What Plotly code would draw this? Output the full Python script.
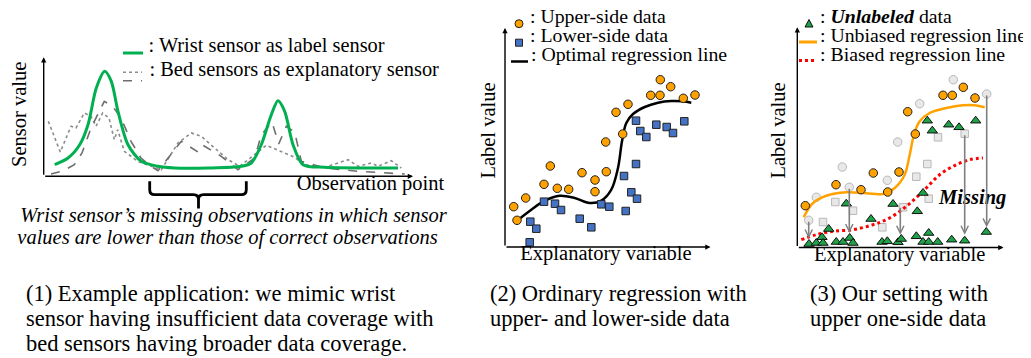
import plotly.graph_objects as go

W, H = 1031, 358
FONT = "Liberation Serif, Times New Roman, serif"

# ---------------- Panel 1 data (observation point vs sensor value) ----------------
wrist_x = [11, 24.3, 36, 44.3, 52.6, 61, 67.6, 74.3, 84.3, 97.6, 114.3, 131, 164.3, 197.6,
           207.6, 217.6, 227.6, 234.3, 241, 249.3, 259.3, 281, 331, 354.3]
wrist_y = [11.6, 18.3, 31.6, 51.6, 88.3, 105, 95, 65, 31.6, 15, 10, 8.3, 8.3, 10,
           13.3, 31.6, 61.6, 75.6, 65, 31.6, 11.6, 9, 8.3, 8.3]

bed_dot_x = [4.6, 16.6, 27.3, 32.3, 40.6, 47.3, 52.3, 59, 65.3, 70.6, 74, 80.6, 94, 104.3, 117.6,
             134.3, 147.6, 157.6, 171, 184.3, 196, 211, 222.6, 251, 261, 281, 304.3, 314.3,
             327.6, 334.3, 347.6, 357.6]
bed_dot_y = [55, 24.3, 50, 48.3, 63.3, 60, 50, 63.3, 58.3, 36.6, 46.6, 25, 15, 11.6, 6.6,
             33.3, 43.3, 40, 28.3, 16.6, 10, 21.6, 31, 19, 11.6, 9, 16.6, 10,
             13.3, 10, 15.6, 8.3]

bed_dash_x = [7.3, 19.3, 30.6, 38.3, 47.3, 60.6, 69, 77.3, 87.3, 97.3, 107.3, 114.3, 137.6, 154.3,
              159.3, 177.6, 194.3, 211, 217.6, 228.3, 235, 242.6, 251, 257.6, 281, 314.3, 361]
bed_dash_y = [2.3, 5.3, 11.6, 23.3, 48.3, 75, 70, 58.3, 35, 18.3, 10, 5.6, 35, 24.3,
              31, 20, 6.6, 18.3, 41.6, 54.3, 32.3, 50, 44.3, 15, 8.3, 5, 2.3]

# ---------------- Panel 2 data ----------------
upper_x = [8.7, 12, 20.7, 39, 45.3, 52.3, 63.7, 77, 90, 90, 101.3, 100.7, 111, 117.7, 123,
           145.7, 155, 155.3, 165.7, 178.3, 190]
upper_y = [40.3, 26.7, 49, 62.7, 81, 58.7, 57.7, 74.3, 67, 55.3, 75.3, 105, 134.7, 113, 142.7,
           151.7, 151.7, 167.3, 160.3, 148.7, 152]

lower_x = [24.7, 25.3, 31.3, 39, 50, 56, 74.7, 86.3, 96.3, 104.3, 119, 120.7, 126.3, 131, 132,
           131, 135.3, 141.3, 151.3, 161.7, 168, 179.3]
lower_y = [4.7, 25.3, 18.3, 45.3, 43.3, 37, 28.3, 19.7, 42.7, 40.3, 71, 36, 54.7, 83, 48.3,
           126.3, 116, 110, 122.3, 120, 114, 125.7]

opt_x = [12, 26.3, 39.7, 54.7, 69.7, 84.7, 96.3, 106.3, 113, 117, 121.3, 128, 139.7, 153, 166.3, 178, 186.3]
opt_y = [26.3, 37.3, 46.3, 51.3, 49, 44, 46.3, 57.3, 79, 105.7, 124, 133, 140, 144.3, 146, 145.7, 144.3]

# ---------------- Panel 3 data ----------------
lab_x = [8, 38.7, 63.7, 76, 90.4, 101.7, 110.4, 118, 145.7, 155, 166, 177.7]
lab_y = [41.8, 62.8, 57.8, 74.5, 55.5, 75.5, 135.8, 113.5, 152.2, 152.2, 160.2, 149.5]

miss_up_x = [11.4, 19, 45, 52, 90, 100.4, 122.4, 156, 189.4]
miss_up_y = [27.2, 50.2, 80.5, 60.2, 67.2, 105.5, 143.8, 167.8, 153.5]

miss_low_x = [25.7, 38, 55.7, 85, 105.7, 119, 130, 131.4, 140.7, 167.4]
miss_low_y = [25.5, 45.5, 36.8, 20.2, 40.2, 70.8, 83.5, 48.8, 110.2, 113.8]

unl_x = [11.7, 19, 24.7, 25.7, 31.4, 39, 45.7, 49, 52.4, 55.7, 73.7, 84.7, 90, 95.7, 100.7, 104,
         120, 119, 125.7, 125.7, 131.4, 131.4, 130, 135, 140.4, 151.4, 154.4, 161.7, 167.4, 178.4, 189]
unl_y = [3.5, 4.5, 10.2, 4.5, 18.5, 5.5, 5.5, 43.8, 9.5, 4.5, 28.5, 5.5, 6.2, 43.5, 5.2, 8.5,
         36.2, 11.2, 54.5, 5.5, 14.5, 5.5, 126.8, 116.8, 5.5, 122.8, 7.8, 120.2, 6.8, 126.8, 15.5]

unb_x = [6.4, 15.7, 29, 49, 69, 85.7, 97.4, 107.4, 112.4, 116.7, 122.4, 132.4, 149, 165.7, 177.4, 187.4]
unb_y = [30.2, 44.5, 51.8, 55.2, 54.2, 53.5, 59.5, 72.8, 92.8, 112.8, 126.2, 134.5, 139.5, 142.2, 142.2, 140.2]

bias_x = [4, 19, 35.7, 55.7, 75.7, 92.4, 109, 125.7, 142.4, 159, 172.4, 185.7]
bias_y = [7.8, 12.8, 16.2, 17.8, 22.8, 29.5, 41.2, 56.2, 72.8, 82.8, 87.8, 89.5]

miss_arrow_x = [11.4, 52, 103, 167.4, 189.4]
miss_arrow_from = [27.2, 60.2, 41.2, 113.8, 153.5]
miss_arrow_to = [9, 14.5, 12.8, 12.8, 20.2]

# ---------------- text labels ----------------
legend1_labels = [": Wrist sensor as label sensor", ": Bed sensors as explanatory sensor"]
legend2_labels = [": Upper-side data", ": Lower-side data", ": Optimal regression line"]
legend3_labels = [": <b><i>Unlabeled</i></b> data", ": Unbiased regression line", ": Biased regression line"]
note_lines = ["Wrist sensor’s missing observations in which sensor",
              "values are lower than those of correct observations"]
caption1 = ["(1) Example application: we mimic wrist",
            "sensor having insufficient data coverage with",
            "bed sensors having broader data coverage."]
caption2 = ["(2) Ordinary regression with", "upper- and lower-side data"]
caption3 = ["(3) Our setting with", "upper one-side data"]

# ---------------- layout helpers (pixel -> paper) ----------------
def fx(x):
    return x / W

def fy(y):
    return 1 - y / H

# panel frames: origin (ox, oy) and arrow tips (tx, ty) in pixels
P = {
    1: dict(ox=35.7, oy=168.3, tx=405.0, ty=49.3),
    2: dict(ox=497.0, oy=239.0, tx=702.5, ty=20.0),
    3: dict(ox=789.3, oy=239.5, tx=995.5, ty=19.3),
}

fig = go.Figure()

ORANGE = "#FFA200"
BLUE = "#4472C4"
GREEN = "#00B050"
TRI = "#1FA247"

# Panel 1 traces
fig.add_trace(go.Scatter(x=bed_dot_x, y=bed_dot_y, mode="lines", xaxis="x", yaxis="y",
                         line=dict(color="#8C8C8C", width=1.6, dash="dot"), cliponaxis=False))
fig.add_trace(go.Scatter(x=bed_dash_x, y=bed_dash_y, mode="lines", xaxis="x", yaxis="y",
                         line=dict(color="#6E6E6E", width=1.6, dash="dash"), cliponaxis=False))
fig.add_trace(go.Scatter(x=wrist_x, y=wrist_y, mode="lines", xaxis="x", yaxis="y",
                         line=dict(color=GREEN, width=3, shape="spline", smoothing=0.8), cliponaxis=False))

# Panel 2 traces
fig.add_trace(go.Scatter(x=opt_x, y=opt_y, mode="lines", xaxis="x2", yaxis="y2",
                         line=dict(color="black", width=2.5, shape="spline", smoothing=1), cliponaxis=False))
fig.add_trace(go.Scatter(x=upper_x, y=upper_y, mode="markers", xaxis="x2", yaxis="y2",
                         marker=dict(symbol="circle", size=8.5, color=ORANGE, line=dict(color="#222", width=1)),
                         cliponaxis=False))
fig.add_trace(go.Scatter(x=lower_x, y=lower_y, mode="markers", xaxis="x2", yaxis="y2",
                         marker=dict(symbol="square", size=7.5, color=BLUE, line=dict(color="#222", width=1)),
                         cliponaxis=False))

# Panel 3 traces
fig.add_trace(go.Scatter(x=miss_up_x, y=miss_up_y, mode="markers", xaxis="x3", yaxis="y3",
                         marker=dict(symbol="circle", size=8.5, color="#E8E8E8", line=dict(color="#B8B8B8", width=1)),
                         cliponaxis=False))
fig.add_trace(go.Scatter(x=miss_low_x, y=miss_low_y, mode="markers", xaxis="x3", yaxis="y3",
                         marker=dict(symbol="square", size=7.5, color="#E8E8E8", line=dict(color="#B8B8B8", width=1)),
                         cliponaxis=False))
fig.add_trace(go.Scatter(x=bias_x, y=bias_y, mode="lines", xaxis="x3", yaxis="y3",
                         line=dict(color="#FF0000", width=3, dash="dot", shape="spline"), cliponaxis=False))
fig.add_trace(go.Scatter(x=unb_x, y=unb_y, mode="lines", xaxis="x3", yaxis="y3",
                         line=dict(color=ORANGE, width=2.5, shape="spline", smoothing=1), cliponaxis=False))
fig.add_trace(go.Scatter(x=lab_x, y=lab_y, mode="markers", xaxis="x3", yaxis="y3",
                         marker=dict(symbol="circle", size=8.5, color=ORANGE, line=dict(color="#222", width=1)),
                         cliponaxis=False))
fig.add_trace(go.Scatter(x=unl_x, y=unl_y, mode="markers", xaxis="x3", yaxis="y3",
                         marker=dict(symbol="triangle-up", size=9, color=TRI, line=dict(color="#111", width=1)),
                         cliponaxis=False))

# ---------------- text layer: overlay axis in page pixels ----------------
def add_text(xs, ys, labels, size, position="middle right", style="normal", weight="normal"):
    ys = [y - 0.32 * size for y in ys]
    fig.add_trace(go.Scatter(x=xs, y=ys, text=labels, mode="text", xaxis="x4", yaxis="y4",
                             textposition=position, cliponaxis=False, hoverinfo="skip",
                             textfont=dict(family=FONT, size=size, color="black",
                                           style=style, weight=weight)))

LEG = 19.8
add_text([140.5, 141.5], [45.5, 69.5], legend1_labels, LEG + 0.6)
add_text([522, 522, 523], [16.2, 35.5, 54], legend2_labels, LEG)
add_text([812, 812, 812], [16, 35.5, 54], legend3_labels, LEG)
add_text([362.5], [183.5], ["Observation point"], 20.5, "middle center")
add_text([598, 891.7], [253.5, 254.5], ["Explanatory variable", "Explanatory variable"], 20.5, "middle center")
add_text([225.5, 219.5], [215.5, 237], note_lines, 20.5, "middle center", style="italic")
add_text([964.7], [197.5], ["<b><i>Missing</i></b>"], 20.5, "middle center")
CAP = 22.5
add_text([18, 18, 18], [295, 320, 345], caption1, CAP)
add_text([482, 482], [295, 320], caption2, CAP)
add_text([802, 802], [295, 320], caption3, CAP)

layout_axes = {}
for i in (1, 2, 3):
    p = P[i]
    xa = "xaxis" if i == 1 else f"xaxis{i}"
    ya = "yaxis" if i == 1 else f"yaxis{i}"
    layout_axes[xa] = dict(domain=[fx(p["ox"]), fx(p["tx"])], range=[0, p["tx"] - p["ox"]],
                           visible=False, fixedrange=True, anchor="y" if i == 1 else f"y{i}")
    layout_axes[ya] = dict(domain=[fy(p["oy"]), fy(p["ty"])], range=[0, p["oy"] - p["ty"]],
                           visible=False, fixedrange=True, anchor="x" if i == 1 else f"x{i}")
layout_axes["xaxis4"] = dict(domain=[0, 1], range=[0, W], visible=False, fixedrange=True, anchor="y4")
layout_axes["yaxis4"] = dict(domain=[0, 1], range=[H, 0], visible=False, fixedrange=True, anchor="x4")

annotations = []
shapes = []

# Axis arrows
for i in (1, 2, 3):
    p = P[i]
    xr = "x" if i == 1 else f"x{i}"
    yr = "y" if i == 1 else f"y{i}"
    xmax = p["tx"] - p["ox"]
    ymax = p["oy"] - p["ty"]
    for (x, y) in ((xmax, 0), (0, ymax)):
        annotations.append(dict(x=x, y=y, ax=0, ay=0, xref=xr, yref=yr, axref=xr, ayref=yr,
                                text="", showarrow=True, arrowhead=2, arrowsize=0.75,
                                arrowwidth=1.4, arrowcolor="black"))

# Missing arrows in panel 3
for x, y0, y1 in zip(miss_arrow_x, miss_arrow_from, miss_arrow_to):
    annotations.append(dict(x=x, y=y1, ax=x, ay=y0, xref="x3", yref="y3", axref="x3", ayref="y3",
                            text="", showarrow=True, arrowhead=5, arrowsize=0.9,
                            arrowwidth=1.6, arrowcolor="#7F7F7F"))

# Rotated y-axis titles
for (x, y) in ((18.5, 106.7), (488.3, 122.5), (778.3, 122.5)):
    s = "Sensor value" if x < 100 else "Label value"
    annotations.append(dict(x=fx(x - 8.2), y=fy(y), xref="paper", yref="paper", text=s, showarrow=False,
                            xanchor="center", yanchor="middle", textangle=-90,
                            font=dict(family=FONT, size=20.5, color="black")))

# Legend glyphs (pixel positions converted to paper)
def hline(x0, x1, y, color, width, dash="solid"):
    shapes.append(dict(type="line", xref="paper", yref="paper", x0=fx(x0), x1=fx(x1), y0=fy(y), y1=fy(y),
                       line=dict(color=color, width=width, dash=dash)))

hline(115, 135, 45, GREEN, 3)
hline(115, 134, 64.3, "#8C8C8C", 1.6, "dot")
hline(115, 134, 72.7, "#6E6E6E", 1.6, "dash")
hline(503, 520, 53.5, "black", 2.5)
hline(791, 809, 34, ORANGE, 3)
hline(791, 809, 52.5, "#FF0000", 3, "dot")

shapes.append(dict(type="circle", xref="paper", yref="paper", x0=fx(507), x1=fx(515), y0=fy(19.7), y1=fy(11.7),
                   fillcolor=ORANGE, line=dict(color="#222", width=1)))
shapes.append(dict(type="rect", xref="paper", yref="paper", x0=fx(507.5), x1=fx(514.5), y0=fy(38.2), y1=fy(31.2),
                   fillcolor=BLUE, line=dict(color="#222", width=1)))
tri = f"M {fx(797)} {fy(19)} L {fx(805)} {fy(19)} L {fx(801)} {fy(11.5)} Z"
shapes.append(dict(type="path", xref="paper", yref="paper", path=tri,
                   fillcolor=TRI, line=dict(color="#111", width=1)))

# Brace under panel 1
bx0, bx1, bxm = 141.7, 238.3, 190.5
by0, bym, byt, r = 173.3, 186.7, 200.5, 5
pts = [
    f"M {fx(bx0)} {fy(by0)}",
    f"L {fx(bx0)} {fy(bym - r)}",
    f"Q {fx(bx0)} {fy(bym)} {fx(bx0 + r)} {fy(bym)}",
    f"L {fx(bxm - r)} {fy(bym)}",
    f"Q {fx(bxm)} {fy(bym)} {fx(bxm)} {fy(bym + r)}",
    f"L {fx(bxm)} {fy(byt)}",
    f"M {fx(bxm)} {fy(bym + r)}",
    f"Q {fx(bxm)} {fy(bym)} {fx(bxm + r)} {fy(bym)}",
    f"L {fx(bx1 - r)} {fy(bym)}",
    f"Q {fx(bx1)} {fy(bym)} {fx(bx1)} {fy(bym - r)}",
    f"L {fx(bx1)} {fy(by0)}",
]
shapes.append(dict(type="path", xref="paper", yref="paper", path=" ".join(pts),
                   line=dict(color="black", width=2.8)))

fig.update_layout(
    width=W, height=H, autosize=False,
    margin=dict(l=0, r=0, t=0, b=0),
    paper_bgcolor="white", plot_bgcolor="rgba(0,0,0,0)",
    showlegend=False,
    annotations=annotations,
    shapes=shapes,
    **layout_axes,
)

fig.write_html("out.html", config=dict(staticPlot=True))
